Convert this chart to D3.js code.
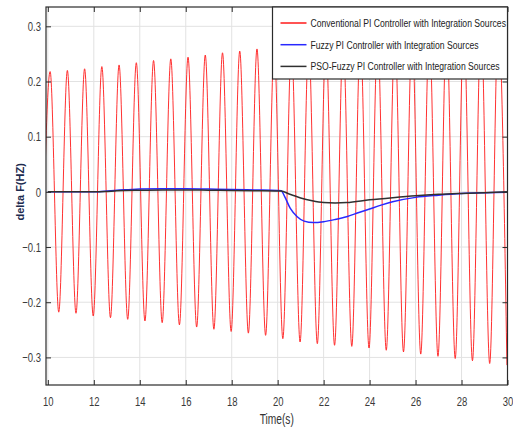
<!DOCTYPE html>
<html>
<head>
<meta charset="utf-8">
<script src="https://cdn.jsdelivr.net/npm/d3@7/dist/d3.min.js"></script>
<style>
  body { margin: 0; background: #fff; }
  svg { display: block; }
</style>
</head>
<body>
<div id="chart"></div>
<script>
// tick labels
const xTicks = [10, 12, 14, 16, 18, 20, 22, 24, 26, 28, 30];
const yTicks = [-0.3, -0.2, -0.1, 0, 0.1, 0.2, 0.3];

const seriesNames = [
  "Conventional PI Controller with Integration Sources",
  "Fuzzy PI Controller with Integration Sources",
  "PSO-Fuzzy PI Controller with Integration Sources"
];
const seriesColors = ["#ff1a1a", "#2828ff", "#303030"];

// conventional PI: read peaks and troughs of the oscillation
const redPeakT = [10.10, 10.85, 11.60, 12.35, 13.10, 13.85, 14.60, 15.35, 16.10, 16.85, 17.60, 18.35, 19.10,
  19.85, 20.60, 21.35, 22.10, 22.85, 23.60, 24.35, 25.10, 25.85, 26.60, 27.35, 28.10, 28.85, 29.60];
const redPeakV = [0.218, 0.220, 0.223, 0.227, 0.230, 0.234, 0.238, 0.241, 0.244, 0.248, 0.252, 0.255, 0.259,
  0.262, 0.266, 0.270, 0.273, 0.276, 0.279, 0.283, 0.287, 0.291, 0.295, 0.299, 0.303, 0.307, 0.311];
const redTroughT = [9.725, 10.475, 11.225, 11.975, 12.725, 13.475, 14.225, 14.975, 15.725, 16.475, 17.225, 17.975, 18.725,
  19.475, 20.225, 20.975, 21.725, 22.475, 23.225, 23.975, 24.725, 25.475, 26.225, 26.975, 27.725, 28.475, 29.225, 29.975];
const redTroughV = [-0.216, -0.218, -0.220, -0.225, -0.228, -0.231, -0.234, -0.237, -0.241, -0.245, -0.249, -0.253, -0.256,
  -0.260, -0.266, -0.272, -0.275, -0.278, -0.280, -0.283, -0.287, -0.290, -0.294, -0.298, -0.302, -0.306, -0.311, -0.314];

// fuzzy PI
const fuzzyT = [10, 12, 12.5, 13, 13.5, 14, 15, 16, 17, 18, 19, 20, 20.15, 20.3, 20.55, 20.85, 21.15, 21.55,
  22, 22.5, 23, 23.5, 24, 24.5, 25, 26, 27, 28, 29, 30];
const fuzzyV = [0, 0, 0.001, 0.003, 0.004, 0.005, 0.0055, 0.0055, 0.005, 0.0045, 0.0035, 0.0025, 0.0022, -0.008, -0.030, -0.045, -0.053, -0.0557,
  -0.054, -0.050, -0.045, -0.038, -0.031, -0.024, -0.018, -0.010, -0.006, -0.003, -0.0015, -0.0005];

// PSO-fuzzy PI
const psoT = [10, 12, 12.5, 13, 14, 15, 16, 17, 18, 19, 20, 20.15, 20.5, 21, 21.5, 22, 22.5, 23, 24, 25, 26, 27, 28, 29, 30];
const psoV = [0, 0, 0.0005, 0.002, 0.003, 0.0035, 0.0035, 0.003, 0.0025, 0.002, 0.0015, 0.0015, -0.004, -0.011, -0.016, -0.0192, -0.020,
  -0.0195, -0.0145, -0.0105, -0.007, -0.0045, -0.0028, -0.0014, 0];

const width = 513;
const height = 429;
const marginLeft = 46;
const marginRight = 5.5;
const marginTop = 7;
const marginBottom = 44;
const tickLen = 5;
const font = "'Liberation Sans', Arial, sans-serif";

// the source picture is squeezed sideways: narrow each text about its own x
let _narrow = function (sel, f) {
  sel.each(function () {
    const ax = +d3.select(this).attr("x") || 0;
    d3.select(this).attr("transform", `translate(${ax},0) scale(${f},1) translate(${-ax},0)`);
  });
};

const svg = d3.select("#chart")
  .append("svg")
  .attr("width", width)
  .attr("height", height);

const x = d3.scaleLinear().domain([9.92, 30]).range([marginLeft, width - marginRight]);
const y = d3.scaleLinear().domain([-0.35, 0.335]).range([height - marginBottom, marginTop]);

const x0 = x.range()[0], x1 = x.range()[1];
const y0 = y.range()[0], y1 = y.range()[1];

// grid
const grid = svg.append("g").attr("stroke", "#e2e2e2").attr("stroke-width", 1);
grid.selectAll(".gx").data(xTicks).join("line")
  .attr("x1", d => x(d)).attr("x2", d => x(d)).attr("y1", y0).attr("y2", y1);
grid.selectAll(".gy").data(yTicks).join("line")
  .attr("x1", x0).attr("x2", x1).attr("y1", d => y(d)).attr("y2", d => y(d));

svg.append("clipPath").attr("id", "plotclip")
  .append("rect").attr("x", x0).attr("y", y1).attr("width", x1 - x0).attr("height", y0 - y1);

// merge red extremes into one ordered series
const redPts = redPeakT.map((t, i) => [t, redPeakV[i]])
  .concat(redTroughT.map((t, i) => [t, redTroughV[i]]))
  .sort((a, b) => a[0] - b[0]);

const line = d3.line().x(d => x(d[0])).y(d => y(d[1])).curve(d3.curveMonotoneX);

const series = [
  redPts,
  fuzzyT.map((t, i) => [t, fuzzyV[i]]),
  psoT.map((t, i) => [t, psoV[i]])
];
const widths = [0.9, 1.5, 1.5];

const plot = svg.append("g").attr("clip-path", "url(#plotclip)");
series.forEach((s, i) => {
  plot.append("path")
    .attr("d", line(s))
    .attr("fill", "none")
    .attr("stroke", seriesColors[i])
    .attr("stroke-width", widths[i]);
});

// axes: ticks inside on all four sides
const axisColor = "#2b2b2b";
const textColor = "#3a3a3a";
svg.append("g").attr("transform", `translate(0,${y0})`)
  .call(d3.axisBottom(x).tickValues(xTicks).tickSizeInner(-tickLen).tickSizeOuter(0).tickPadding(12).tickFormat(d3.format("d")))
  .call(g => g.select(".domain").remove());
svg.append("g").attr("transform", `translate(0,${y1})`)
  .call(d3.axisTop(x).tickValues(xTicks).tickSizeInner(-tickLen).tickSizeOuter(0).tickFormat(""))
  .call(g => g.select(".domain").remove());
svg.append("g").attr("transform", `translate(${x0},0)`)
  .call(d3.axisLeft(y).tickValues(yTicks).tickSizeInner(-tickLen).tickSizeOuter(0).tickPadding(5).tickFormat(d => d === 0 ? "0" : d3.format(".1f")(d)))
  .call(g => g.select(".domain").remove());
svg.append("g").attr("transform", `translate(${x1},0)`)
  .call(d3.axisRight(y).tickValues(yTicks).tickSizeInner(-tickLen).tickSizeOuter(0).tickFormat(""))
  .call(g => g.select(".domain").remove());

svg.selectAll(".tick line").attr("stroke", axisColor);
svg.selectAll(".tick text")
  .attr("fill", textColor)
  .style("font-family", font)
  .style("font-size", "13px")
  .call(_narrow, 0.73);

svg.append("rect")
  .attr("x", x0).attr("y", y1).attr("width", x1 - x0).attr("height", y0 - y1)
  .attr("fill", "none").attr("stroke", axisColor).attr("stroke-width", 1.2);

// axis titles
svg.append("text")
  .attr("x", (x0 + x1) / 2).attr("y", height - 5)
  .attr("text-anchor", "middle")
  .attr("fill", "#333")
  .style("font-family", font)
  .style("font-size", "14px")
  .text("Time(s)")
  .call(_narrow, 0.73);
svg.append("text")
  .attr("transform", `translate(24,${y(0)}) rotate(-90)`)
  .attr("text-anchor", "middle")
  .attr("fill", "#1d2b4f")
  .style("font-family", font)
  .style("font-weight", "bold")
  .style("font-size", "11px")
  .text("delta F(HZ)");

// legend
const legW = 235, legH = 72, rowH = 21.7;
const legend = svg.append("g").attr("transform", `translate(${x1 - legW},${y1})`);
legend.append("rect")
  .attr("width", legW).attr("height", legH)
  .attr("fill", "#fff").attr("stroke", axisColor).attr("stroke-width", 1.2);
const rows = legend.selectAll(".row").data(seriesNames).join("g")
  .attr("transform", (d, i) => `translate(0,${16 + i * rowH})`);
rows.append("line")
  .attr("x1", 8).attr("x2", 34)
  .attr("stroke", (d, i) => seriesColors[i])
  .attr("stroke-width", 1.5);
rows.append("text")
  .attr("x", 38).attr("y", 4)
  .attr("fill", "#222")
  .style("font-family", font)
  .style("font-size", "11.5px")
  .text(d => d)
  .call(_narrow, 0.75);
</script>
</body>
</html>
